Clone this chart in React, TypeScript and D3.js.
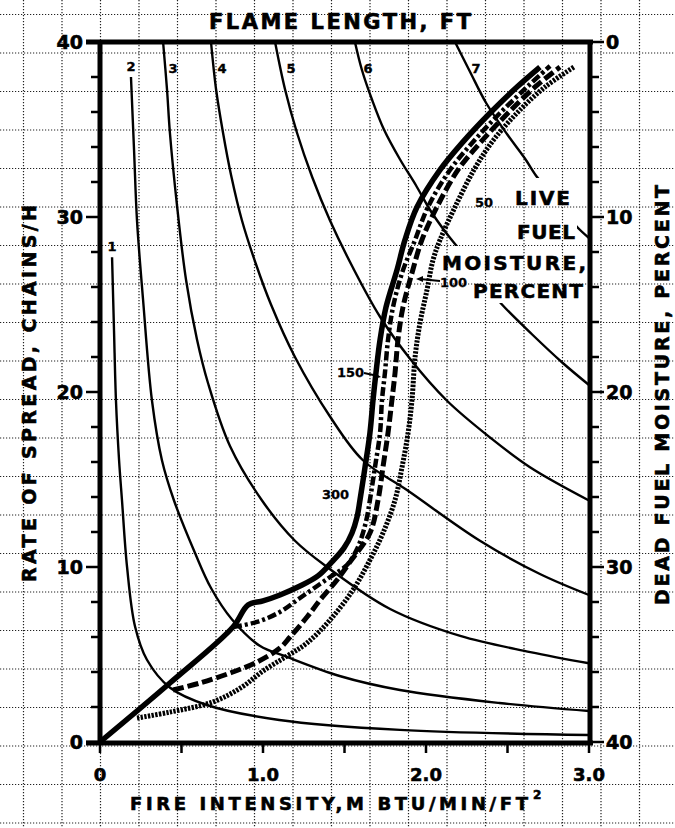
import React from 'react';
import * as d3 from 'd3';

type Pt = [number, number];

// axis ticks
const rateTicks = [0, 10, 20, 30, 40];
const deadMoistureTicks = [0, 10, 20, 30, 40];
const intensityTicks = [0, 1, 2, 3];
const intensityTickLabels = ['0', '1.0', '2.0', '3.0'];

// flame length curves, [fire intensity, rate of spread]
const flameLengths = ['1', '2', '3', '4', '5', '6', '7'];
const flame1: Pt[] = [[0.074, 27.7], [0.086, 23.5], [0.098, 19.5], [0.117, 16.1], [0.135, 13.8], [0.166, 10.0], [0.215, 6.6], [0.288, 4.7], [0.43, 3.1], [0.66, 2.1], [1.10, 1.26], [1.84, 0.69], [3.0, 0.4]];
const flame2: Pt[] = [[0.19, 38.0], [0.209, 33.8], [0.227, 29.8], [0.264, 25.3], [0.319, 19.5], [0.38, 16.1], [0.454, 13.8], [0.583, 10.8], [0.681, 8.8], [0.81, 7.0], [0.98, 5.5], [1.147, 4.86], [1.47, 3.77], [1.84, 2.97], [2.45, 2.23], [3.0, 1.77]];
const flame3: Pt[] = [[0.387, 40], [0.411, 37.3], [0.429, 34.8], [0.472, 30.7], [0.528, 26.4], [0.595, 23.0], [0.663, 20.5], [0.798, 16.9], [0.994, 13.8], [1.196, 11.5], [1.393, 10.0], [1.78, 7.6], [2.21, 6.06], [2.64, 5.14], [3.0, 4.5]];
const flame4: Pt[] = [[0.681, 40], [0.712, 37.3], [0.755, 34.8], [0.804, 32.4], [0.871, 29.8], [0.957, 27.3], [1.049, 25.0], [1.196, 22.0], [1.411, 18.6], [1.613, 16.1], [1.883, 14.4], [2.331, 11.5], [2.699, 9.6], [3.0, 8.4]];
const flame5: Pt[] = [[1.074, 40], [1.135, 37.3], [1.209, 34.8], [1.301, 32.3], [1.411, 29.8], [1.552, 27.1], [1.718, 24.3], [1.902, 21.9], [2.129, 19.5], [2.393, 17.4], [2.638, 15.7], [3.0, 13.8]];
const flame6: Pt[] = [[1.564, 40], [1.607, 38.4], [1.669, 36.7], [1.742, 35.0], [1.84, 33.3], [1.939, 31.8], [2.025, 30.4], [2.123, 29.1], [2.209, 28.1], [2.331, 26.5], [2.466, 25.0], [2.65, 23.3], [2.834, 21.7], [3.0, 20.4]];
const flame7: Pt[] = [[2.178, 40], [2.27, 38.3], [2.37, 36.5], [2.50, 34.7], [2.61, 33.3], [2.68, 32.3], [2.77, 31.3], [2.85, 30.3], [2.93, 29.4], [3.0, 28.8]];

// live fuel moisture curves
const live300: Pt[] = [[0, 0], [0.429, 3.37], [0.816, 6.57], [0.908, 7.83], [1.0, 8.06], [1.104, 8.4], [1.227, 8.91], [1.337, 9.49], [1.423, 10.29], [1.497, 11.09], [1.546, 11.94], [1.577, 12.86], [1.595, 13.83], [1.626, 15.71], [1.656, 17.66], [1.675, 19.54], [1.693, 21.09], [1.718, 22.97], [1.755, 24.86], [1.822, 26.97], [1.871, 28.69], [1.945, 30.57], [2.086, 32.69], [2.227, 34.29], [2.393, 35.94], [2.558, 37.43], [2.699, 38.57]];
const live150: Pt[] = [[0.816, 6.57], [0.963, 6.86], [1.104, 7.43], [1.227, 8.23], [1.35, 9.03], [1.429, 9.54], [1.515, 10.11], [1.577, 11.03], [1.613, 11.94], [1.638, 12.86], [1.656, 13.83], [1.687, 15.71], [1.718, 17.66], [1.73, 19.54], [1.748, 21.09], [1.767, 22.97], [1.798, 24.86], [1.853, 26.8], [1.933, 28.69], [2.012, 30.57], [2.147, 32.69], [2.288, 34.29], [2.454, 35.94], [2.62, 37.43], [2.761, 38.63]];
const live100: Pt[] = [[0.448, 2.97], [0.613, 3.37], [0.798, 3.94], [0.963, 4.57], [1.104, 5.37], [1.166, 6.0], [1.27, 7.14], [1.35, 8.11], [1.454, 9.26], [1.534, 10.29], [1.656, 11.94], [1.706, 13.83], [1.736, 15.71], [1.767, 17.66], [1.791, 19.54], [1.81, 21.09], [1.828, 22.97], [1.859, 24.86], [1.914, 26.8], [1.975, 28.69], [2.067, 30.57], [2.196, 32.69], [2.337, 34.29], [2.503, 35.94], [2.669, 37.43], [2.822, 38.57]];
const live50: Pt[] = [[0.227, 1.37], [0.429, 1.71], [0.693, 2.29], [0.871, 3.14], [1.0, 4.06], [1.147, 4.91], [1.27, 5.66], [1.411, 6.97], [1.552, 8.69], [1.656, 10.4], [1.736, 11.94], [1.81, 13.83], [1.853, 15.71], [1.89, 17.66], [1.914, 19.54], [1.933, 22.0], [1.963, 23.94], [2.006, 25.83], [2.043, 27.54], [2.086, 28.69], [2.178, 30.57], [2.294, 32.69], [2.405, 34.29], [2.558, 35.94], [2.73, 37.43], [2.908, 38.57]];

const W = 675;
const H = 828;
const font = "'DejaVu Sans', Verdana, sans-serif";

export default function App() {
	const x = d3.scaleLinear().domain([0, 3]).range([100, 589]);
	const y = d3.scaleLinear().domain([0, 40]).range([742, 42]);
	const yDead = d3.scaleLinear().domain([0, 40]).range([42, 742]);

	const line = d3.line<Pt>()
		.x(d => x(d[0]))
		.y(d => y(d[1]))
		.curve(d3.curveCatmullRom.alpha(0.5));

	// graph paper behind the chart
	const gridX = d3.range(-3, 15).map(k => 139 + 38.5 * k);
	const gridY = d3.range(-5, 17).map(k => 207 + 38.5 * k);

	const flames = [flame1, flame2, flame3, flame4, flame5, flame6, flame7];
	const live = [
		{ pts: live50, dash: '2.4,1.3', w: 5 },
		{ pts: live100, dash: '11,4', w: 5 },
		{ pts: live150, dash: '9,3,3,3', w: 4.5 },
		{ pts: live300, dash: null, w: 5.5 },
	];

	const minorRate = d3.range(0, 41, 2);
	const minorIntensity = d3.range(0, 3.01, 0.5);

	return (
		<svg width={W} height={H} style={{ position: 'absolute', left: 0, top: 0, background: '#fff' }}
			fontFamily={font} fontWeight="bold">
			<defs>
				<mask id="flameMask">
					<rect x={0} y={0} width={W} height={H} fill="white" />
					<rect x={505} y={178} width={72} height={65} fill="black" />
					<rect x={438} y={246} width={152} height={57} fill="black" />
				</mask>
			</defs>

			<g stroke="#222" strokeWidth={1.2} strokeDasharray="1.2,1.8">
				{gridX.map(gx => <line key={'gx' + gx} x1={gx} x2={gx} y1={0} y2={H} />)}
				{gridY.map(gy => <line key={'gy' + gy} x1={0} x2={W} y1={gy} y2={gy} />)}
			</g>

			<g fill="none" stroke="#000" strokeWidth={2.4} mask="url(#flameMask)">
				{flames.map((pts, i) => <path key={i} d={line(pts) || ''} />)}
			</g>

			<g fontSize={13} textAnchor="middle" stroke="#000" strokeWidth={0.4}>
				{flames.map((pts, i) => {
					const lx = i < 2 ? x(pts[0][0]) : x(pts[1][0]) + 6;
					const ly = i < 2 ? y(pts[0][1]) - 6 : 73;
					return <text key={i} x={lx} y={ly}>{flameLengths[i]}</text>;
				})}
			</g>

			<g fill="none" stroke="#000">
				{live.map((s, i) => (
					<path key={i} d={line(s.pts) || ''} strokeWidth={s.w}
						strokeDasharray={s.dash || undefined} />
				))}
			</g>

			{/* frame */}
			<g stroke="#000" strokeWidth={5}>
				<line x1={86} x2={593} y1={42} y2={42} />
				<line x1={86} x2={593} y1={743} y2={743} />
				<line x1={100} x2={100} y1={40} y2={745} />
				<line x1={590} x2={590} y1={40} y2={745} />
			</g>

			<g stroke="#000" strokeWidth={2.5}>
				{minorRate.map(v => (
					<line key={'l' + v} x1={v % 10 === 0 ? 86 : 91} x2={100} y1={y(v)} y2={y(v)} />
				))}
				{minorRate.map(v => (
					<line key={'r' + v} x1={590} x2={v % 10 === 0 ? 604 : 599} y1={yDead(v)} y2={yDead(v)} />
				))}
				{minorIntensity.map(v => (
					<line key={'b' + v} x1={x(v)} x2={x(v)} y1={743} y2={753} />
				))}
			</g>

			<g stroke="#000" strokeWidth={0.6}>
				<g fontSize={19}>
					{rateTicks.map(v => (
						<text key={v} x={83} y={y(v)} dy="0.36em" textAnchor="end">{v}</text>
					))}
					{deadMoistureTicks.map(v => (
						<text key={v} x={606} y={yDead(v)} dy="0.36em" textAnchor="start">{v}</text>
					))}
				</g>
				<g fontSize={18} textAnchor="middle">
					{intensityTicks.map((v, i) => (
						<text key={v} x={x(v)} y={781}>{intensityTickLabels[i]}</text>
					))}
				</g>

				{/* axis titles */}
				<text x={209} y={29} fontSize={21} textLength={262} lengthAdjust="spacing">FLAME  LENGTH, FT</text>
				<text x={130} y={810} fontSize={18} textLength={398} lengthAdjust="spacing">FIRE INTENSITY,M BTU/MIN/FT</text>
				<text x={533} y={799} fontSize={12}>2</text>
				<text transform="translate(36,582) rotate(-90)" fontSize={19} textLength={377} lengthAdjust="spacing">RATE OF SPREAD, CHAINS/H</text>
				<text transform="translate(669,605) rotate(-90)" fontSize={19} textLength={420} lengthAdjust="spacing">DEAD FUEL MOISTURE, PERCENT</text>

				{/* live fuel moisture key */}
				<g fontSize={20}>
					<text x={515} y={205} textLength={55} lengthAdjust="spacing">LIVE</text>
					<text x={517} y={239} textLength={58} lengthAdjust="spacing">FUEL</text>
					<text x={442} y={270} textLength={144} lengthAdjust="spacing">MOISTURE,</text>
					<text x={473} y={298} textLength={110} lengthAdjust="spacing">PERCENT</text>
				</g>
				<g fontSize={13} strokeWidth={0.3}>
					<text x={475} y={207}>50</text>
					<text x={440} y={287}>100</text>
					<text x={337} y={377}>150</text>
					<text x={322} y={499}>300</text>
				</g>
			</g>
			<g stroke="#000" strokeWidth={1.8} fill="#000">
				<line x1={440} y1={281} x2={420} y2={279} />
				<path d="M416,279 L423,276 L423,282 Z" stroke="none" />
				<line x1={364} y1={373} x2={378} y2={376} />
				<path d="M381,377 L375,373 L374,379 Z" stroke="none" />
			</g>
		</svg>
	);
}
